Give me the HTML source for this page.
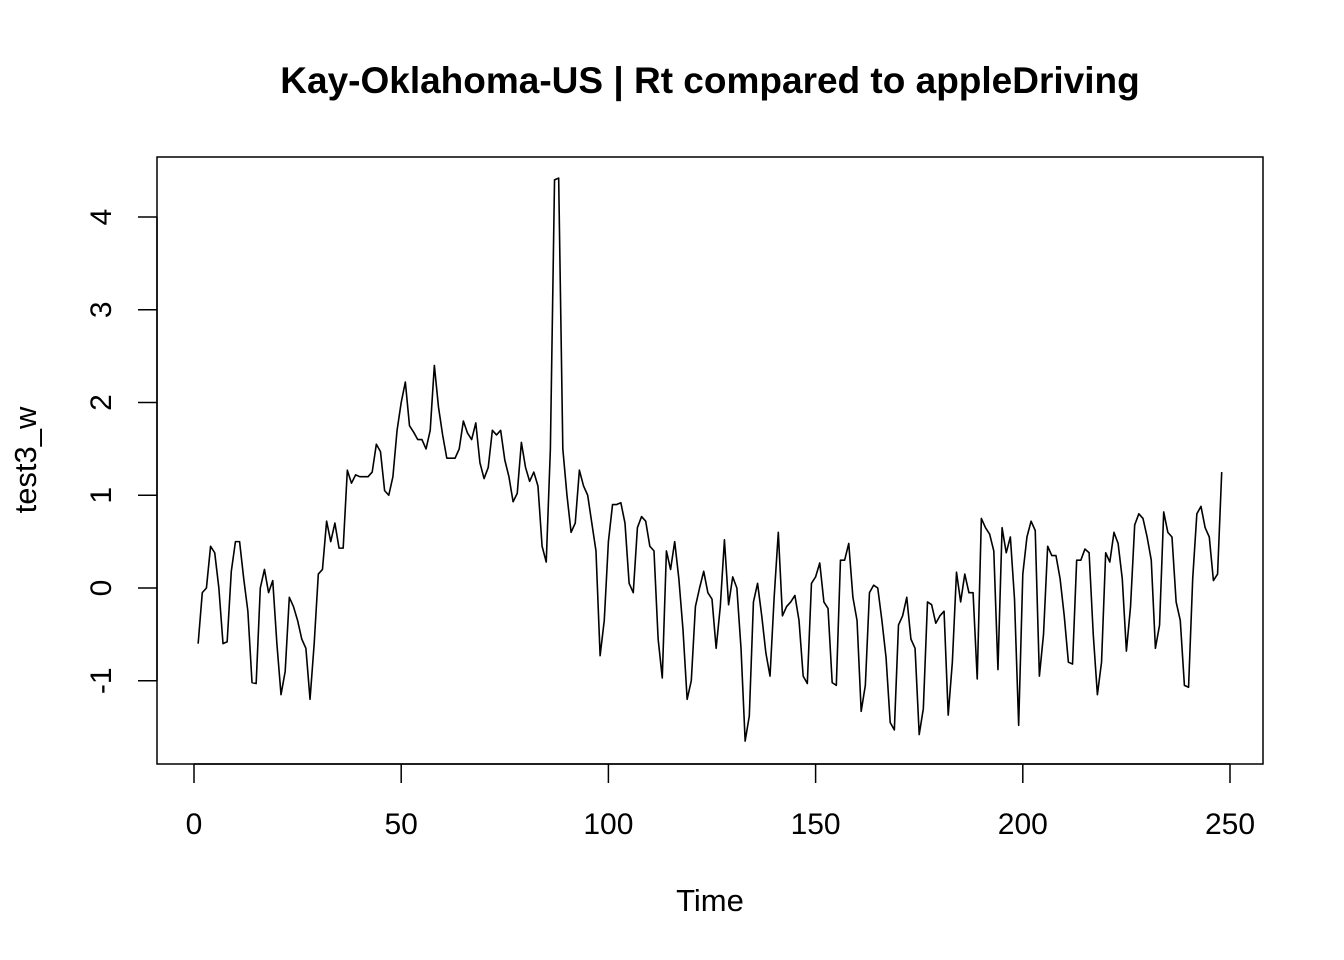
<!DOCTYPE html>
<html><head><meta charset="utf-8"><style>
html,body{margin:0;padding:0;background:#fff;}
svg{display:block;font-family:"Liberation Sans",Arial,sans-serif;}
</style></head><body>
<svg id="chart" width="1344" height="960" viewBox="0 0 1344 960">
<rect x="0" y="0" width="1344" height="960" fill="#fff"/>
<text x="710" y="93" text-anchor="middle" font-size="37" font-weight="bold">Kay-Oklahoma-US | Rt compared to appleDriving</text>
<rect x="157" y="157" width="1106" height="607" fill="none" stroke="#000" stroke-width="1.5"/>
<g id="xaxis"></g>
<g id="yaxis"></g>
<text x="710" y="911" text-anchor="middle" font-size="31">Time</text>
<text x="0" y="0" transform="translate(36,460) rotate(-90)" text-anchor="middle" font-size="31">test3_w</text>
<path id="series" fill="none" stroke="#000" stroke-width="1.6" stroke-linejoin="round"/>
</svg>
<script>
const values = [-0.6,-0.05,0.0,0.45,0.38,0.0,-0.6,-0.58,0.18,0.5,0.5,0.1,-0.25,-1.02,-1.03,0.0,0.2,-0.05,0.08,-0.6,
-1.15,-0.9,-0.1,-0.2,-0.35,-0.55,-0.65,-1.2,-0.6,0.15,0.2,0.72,0.5,0.7,0.43,0.43,1.27,1.13,1.22,1.2,
1.2,1.2,1.25,1.55,1.47,1.05,1.0,1.2,1.7,2.0,2.22,1.75,1.68,1.6,1.6,1.5,1.7,2.4,1.95,1.65,
1.4,1.4,1.4,1.5,1.8,1.67,1.6,1.78,1.35,1.18,1.3,1.7,1.65,1.7,1.38,1.2,0.93,1.02,1.57,1.3,
1.15,1.25,1.1,0.45,0.28,1.5,4.4,4.42,1.5,1.0,0.6,0.7,1.27,1.1,1.0,0.7,0.4,-0.73,-0.35,0.5,
0.9,0.9,0.92,0.7,0.05,-0.05,0.65,0.77,0.72,0.45,0.4,-0.55,-0.97,0.4,0.2,0.5,0.1,-0.45,-1.2,-1.0,
-0.2,0.0,0.18,-0.05,-0.12,-0.65,-0.2,0.52,-0.18,0.12,0.0,-0.65,-1.65,-1.38,-0.15,0.05,-0.3,-0.7,-0.95,-0.1,
0.6,-0.3,-0.2,-0.15,-0.08,-0.35,-0.95,-1.03,0.05,0.12,0.27,-0.15,-0.22,-1.02,-1.05,0.3,0.3,0.48,-0.1,-0.35,
-1.33,-1.05,-0.05,0.03,0.0,-0.35,-0.75,-1.45,-1.53,-0.4,-0.3,-0.1,-0.55,-0.65,-1.58,-1.3,-0.15,-0.18,-0.38,-0.3,
-0.25,-1.37,-0.8,0.17,-0.15,0.15,-0.05,-0.05,-0.98,0.75,0.65,0.58,0.4,-0.88,0.65,0.38,0.55,-0.12,-1.48,0.15,
0.55,0.72,0.62,-0.95,-0.5,0.45,0.35,0.35,0.1,-0.3,-0.8,-0.82,0.3,0.3,0.42,0.38,-0.5,-1.15,-0.8,0.38,
0.28,0.6,0.48,0.1,-0.68,-0.2,0.68,0.8,0.75,0.55,0.3,-0.65,-0.4,0.82,0.6,0.55,-0.15,-0.35,-1.05,-1.07,
0.1,0.8,0.88,0.65,0.55,0.08,0.15,1.25];
const xTicks = [0,50,100,150,200,250];
const yTicks = [-1,0,1,2,3,4];
const xs = t => 194 + t * (1230 - 194) / 250;
const ys = v => 588 - v * (588 - 217) / 4;
const NS = "http://www.w3.org/2000/svg";
const xg = document.getElementById('xaxis');
const yg = document.getElementById('yaxis');
function mk(tag, attrs, parent){const e=document.createElementNS(NS,tag);for(const k in attrs)e.setAttribute(k,attrs[k]);parent.appendChild(e);return e;}
mk('line',{x1:xs(xTicks[0]),x2:xs(xTicks[xTicks.length-1]),y1:764,y2:764,stroke:'#000','stroke-width':1.5},xg);
xTicks.forEach(t=>{
  const l=mk('line',{x1:xs(t),x2:xs(t),y1:764,y2:783,stroke:'#000','stroke-width':1.5},xg);
  
  
  const tx=mk('text',{x:xs(t),y:834,'text-anchor':'middle','font-size':30},xg);
  tx.textContent=t;
  
  
});
mk('line',{x1:157,x2:157,y1:ys(yTicks[0]),y2:ys(yTicks[yTicks.length-1]),stroke:'#000','stroke-width':1.5},yg);
yTicks.forEach(v=>{
  const l=mk('line',{x1:138,x2:157,y1:ys(v),y2:ys(v),stroke:'#000','stroke-width':1.5},yg);
  
  
  const tx=mk('text',{x:0,y:0,transform:`translate(111,${ys(v)}) rotate(-90)`,'text-anchor':'middle','font-size':30},yg);
  tx.textContent=v;
  
  
});
document.getElementById('series').setAttribute('d', values.map((v,i)=>(i?'L':'M')+xs(i+1).toFixed(2)+','+ys(v).toFixed(2)).join(''));
</script>
</body></html>
